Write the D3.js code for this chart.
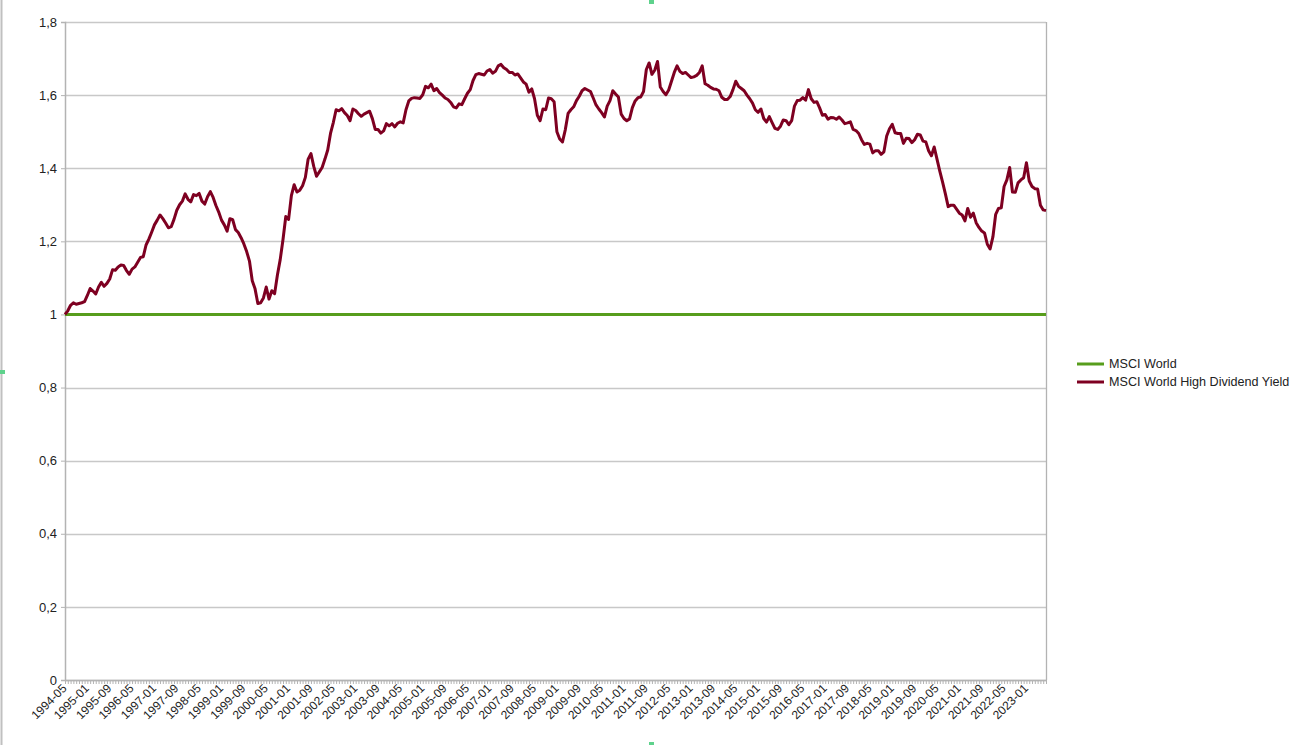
<!DOCTYPE html>
<html>
<head>
<meta charset="utf-8">
<script src="https://cdn.jsdelivr.net/npm/d3@7"></script>
<style>
  html, body { margin: 0; padding: 0; background: #fff; }
  svg { display: block; font-family: "Liberation Sans", Arial, sans-serif; }
</style>
</head>
<body>
<svg id="chart" width="1298" height="745"></svg>
<script>
// ---- data ----
const startMonth = "1994-05";
const seriesNames = ["MSCI World", "MSCI World High Dividend Yield"];
const msciWorld = 1.0; // benchmark normalised to 1
const highDividend = [
  1.000,1.010,1.025,1.032,1.028,1.030,1.032,1.035,1.052,1.071,
  1.064,1.056,1.075,1.088,1.077,1.085,1.097,1.122,1.121,1.130,
  1.135,1.134,1.120,1.110,1.124,1.130,1.143,1.156,1.158,1.190,
  1.206,1.225,1.245,1.258,1.272,1.262,1.250,1.237,1.240,1.260,
  1.285,1.300,1.310,1.330,1.315,1.308,1.328,1.325,1.331,1.310,
  1.302,1.322,1.336,1.320,1.298,1.280,1.258,1.245,1.228,1.262,
  1.259,1.232,1.224,1.210,1.193,1.172,1.146,1.092,1.070,1.030,
  1.032,1.045,1.075,1.042,1.065,1.057,1.108,1.150,1.205,1.268,
  1.260,1.325,1.355,1.335,1.340,1.352,1.375,1.425,1.440,1.405,
  1.378,1.390,1.402,1.425,1.450,1.495,1.525,1.560,1.557,1.563,
  1.552,1.544,1.530,1.562,1.558,1.549,1.542,1.548,1.552,1.556,
  1.535,1.506,1.506,1.496,1.502,1.522,1.516,1.522,1.513,1.523,
  1.527,1.524,1.560,1.584,1.591,1.593,1.592,1.591,1.601,1.624,
  1.620,1.630,1.612,1.618,1.607,1.600,1.592,1.588,1.580,1.568,
  1.565,1.576,1.574,1.590,1.605,1.615,1.640,1.656,1.659,1.657,
  1.655,1.666,1.670,1.660,1.665,1.680,1.684,1.675,1.670,1.662,
  1.662,1.655,1.658,1.647,1.636,1.630,1.608,1.617,1.590,1.545,
  1.530,1.562,1.560,1.592,1.590,1.582,1.500,1.480,1.472,1.505,
  1.550,1.560,1.568,1.585,1.597,1.612,1.618,1.614,1.610,1.592,
  1.573,1.562,1.552,1.540,1.570,1.585,1.612,1.603,1.595,1.548,
  1.536,1.530,1.535,1.566,1.584,1.593,1.595,1.610,1.670,1.688,
  1.657,1.668,1.692,1.622,1.610,1.601,1.614,1.638,1.662,1.680,
  1.665,1.659,1.662,1.655,1.648,1.650,1.654,1.662,1.680,1.631,
  1.627,1.621,1.617,1.616,1.612,1.594,1.588,1.588,1.596,1.615,
  1.638,1.624,1.618,1.612,1.600,1.590,1.578,1.560,1.553,1.562,
  1.536,1.526,1.541,1.525,1.509,1.506,1.515,1.532,1.530,1.519,
  1.530,1.570,1.585,1.586,1.593,1.586,1.615,1.590,1.580,1.582,
  1.565,1.545,1.547,1.534,1.539,1.538,1.534,1.540,1.532,1.522,
  1.524,1.527,1.506,1.503,1.495,1.478,1.465,1.468,1.466,1.442,
  1.448,1.448,1.438,1.445,1.488,1.508,1.520,1.497,1.495,1.495,
  1.468,1.482,1.481,1.470,1.478,1.493,1.491,1.474,1.472,1.448,
  1.434,1.458,1.425,1.392,1.362,1.330,1.295,1.299,1.299,1.288,
  1.277,1.272,1.256,1.290,1.266,1.277,1.251,1.238,1.228,1.223,
  1.192,1.179,1.212,1.274,1.290,1.292,1.350,1.368,1.402,1.335,
  1.334,1.360,1.368,1.374,1.415,1.365,1.350,1.344,1.343,1.299,
  1.286,1.284
];
const yTicks = [0, 0.2, 0.4, 0.6, 0.8, 1, 1.2, 1.4, 1.6, 1.8];
const labelEvery = 8;
const colors = ["#579d1c", "#7e0021"];

// ---- categories (months) ----
const fmtMonth = d3.timeFormat("%Y-%m");
const startDate = d3.timeParse("%Y-%m")(startMonth);
const months = highDividend.map((_, i) => fmtMonth(d3.timeMonth.offset(startDate, i)));

// ---- layout ----
const svg = d3.select("#chart");
const M = { left: 65, right: 1046, top: 22, bottom: 680 };

const x = d3.scalePoint().domain(months).range([M.left, M.right]);
const y = d3.scaleLinear().domain([0, 1.8]).range([M.bottom, M.top]);

// page-edge decorations (as in the screenshot)
svg.append("line").attr("x1", 1.5).attr("x2", 1.5).attr("y1", 0).attr("y2", 745)
  .attr("stroke", "#c0c0c0").attr("stroke-width", 2);
[[649, 0], [0, 370], [649, 742]].forEach(([a, b]) => {
  svg.append("rect").attr("x", a).attr("y", b).attr("width", 5).attr("height", 4).attr("fill", "#5ed28c");
});

// gridlines
svg.append("g").selectAll("line").data(yTicks).join("line")
  .attr("x1", M.left).attr("x2", M.right)
  .attr("y1", d => Math.round(y(d)) + 0.5).attr("y2", d => Math.round(y(d)) + 0.5)
  .attr("stroke", "#c8c8c8").attr("stroke-width", 1.3);

// right border of plot area
svg.append("line").attr("x1", M.right + 0.5).attr("x2", M.right + 0.5).attr("y1", M.top).attr("y2", M.bottom)
  .attr("stroke", "#b3b3b3").attr("stroke-width", 1.3);

// y axis
const fmtY = d => String(+d.toFixed(1)).replace(".", ",");
const yAxis = svg.append("g").attr("transform", `translate(${M.left},0)`)
  .call(d3.axisLeft(y).tickValues(yTicks).tickFormat(fmtY).tickSize(4).tickPadding(4));
yAxis.select(".domain").attr("stroke", "#b3b3b3").attr("stroke-width", 1.5);
yAxis.selectAll(".tick line").attr("stroke", "#b3b3b3");
yAxis.selectAll("text").attr("font-size", 13).attr("fill", "#222")
  .attr("font-family", "Liberation Sans, Arial, sans-serif");

// x axis minor ticks (every month)
const xMinor = svg.append("g").attr("transform", `translate(0,${M.bottom})`)
  .call(d3.axisBottom(x).tickFormat("").tickSize(4).tickSizeOuter(0));
xMinor.select(".domain").attr("stroke", "#b3b3b3").attr("stroke-width", 1.5);
xMinor.selectAll(".tick line").attr("stroke", "#b3b3b3");

// x axis labels
const labelMonths = months.filter((_, i) => i % labelEvery === 0);
const xAxis = svg.append("g").attr("transform", `translate(0,${M.bottom})`)
  .call(d3.axisBottom(x).tickValues(labelMonths).tickSize(0).tickSizeOuter(0));
xAxis.select(".domain").remove();
xAxis.selectAll("text")
  .attr("font-size", 12).attr("fill", "#222")
  .attr("font-family", "Liberation Sans, Arial, sans-serif")
  .attr("text-anchor", "end")
  .attr("transform", "translate(-1,6) rotate(-45)")
  .attr("dy", "0.35em").attr("y", 0).attr("x", 0);

// series lines
const line = d3.line().x((d, i) => x(months[i])).y(d => y(d));
svg.append("path").datum(months.map(() => msciWorld))
  .attr("d", line).attr("fill", "none").attr("stroke", colors[0]).attr("stroke-width", 3);
svg.append("path").datum(highDividend)
  .attr("d", line).attr("fill", "none").attr("stroke", colors[1]).attr("stroke-width", 3)
  .attr("stroke-linejoin", "round");

// legend
const legend = svg.append("g").attr("transform", "translate(1077,364)");
seriesNames.forEach((name, i) => {
  const g = legend.append("g").attr("transform", `translate(0,${i * 18})`);
  g.append("line").attr("x1", 0).attr("x2", 27).attr("y1", 0).attr("y2", 0)
    .attr("stroke", colors[i]).attr("stroke-width", 3);
  g.append("text").attr("x", 32).attr("y", 0).attr("dy", "0.35em")
    .attr("font-size", 12.6).attr("fill", "#222").text(name);
});
</script>
</body>
</html>
